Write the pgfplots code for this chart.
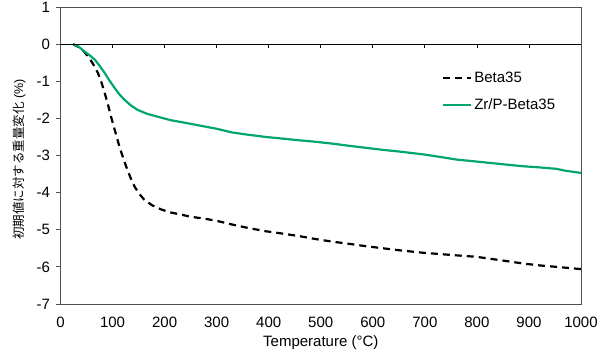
\documentclass[border=0pt]{standalone}
\usepackage{pgfplots}
\pgfplotsset{compat=1.18}
\usepackage{fontspec}
\setmainfont{Liberation Sans}
\newfontfamily\jp{Noto Sans CJK JP}
\definecolor{zrgreen}{RGB}{0,166,106}
\definecolor{frame}{RGB}{80,80,80}
\begin{document}
\begin{tikzpicture}
\useasboundingbox (0,0) rectangle (598pt,351pt);
\begin{axis}[
  at={(60.5pt,47pt)}, anchor=south west,
  scale only axis, width=520.5pt, height=297pt,
  xmin=0, xmax=1000, ymin=-7, ymax=1,
  xtick={0,100,...,1000}, ytick={-7,-6,...,1},
  enlargelimits=false,
  axis line style={frame, line width=0.8pt},
  xtick style={draw=none},
  ytick pos=left, ytick align=outside,
  ytick style={frame, line width=0.8pt},
  major tick length=4pt,
  tick label style={font=\fontsize{15}{17}\selectfont},
  /pgf/number format/assume math mode=true,
  /pgf/number format/1000 sep={},
  xticklabel style={yshift=-9pt},
  yticklabel style={xshift=-3pt},
  xlabel={Temperature (°C)},
  xlabel style={font=\fontsize{15}{17}\selectfont, at={(axis description cs:0.5,0)}, anchor=north, yshift=-28pt},
  ylabel={{\jp 初期値に対する重量変化} (\%)},
  ylabel style={font=\fontsize{12.5}{14}\selectfont, at={(axis description cs:-0.06,0.487)}, anchor=south},
  legend style={draw=none, fill=none, at={(axis description cs:0.727,0.795)}, anchor=north west,
    font=\fontsize{15}{17}\selectfont, row sep=11pt},
  legend cell align=left,
  legend image code/.code={\draw[#1] (0pt,0pt) -- (28pt,0pt);},
]
\addplot[black, line width=2.2pt, dash pattern=on 7pt off 5pt] coordinates {
(24,0)(35,-0.08)(45,-0.2)(53,-0.33)(62,-0.52)(72,-0.78)(78,-1.0)(85,-1.32)(91,-1.62)(97,-1.95)(105,-2.35)(113,-2.75)(120,-3.05)(126,-3.29)(134,-3.58)(142,-3.83)(151,-4.03)(161,-4.19)(176,-4.34)(193,-4.45)(210,-4.53)(231,-4.59)(250,-4.65)(276,-4.70)(300,-4.76)(330,-4.86)(360,-4.95)(394,-5.04)(425,-5.1)(458,-5.17)(490,-5.25)(522,-5.32)(555,-5.38)(585,-5.44)(620,-5.5)(649,-5.55)(697,-5.62)(761,-5.69)(800,-5.73)(825,-5.78)(860,-5.85)(889,-5.91)(920,-5.96)(953,-6.0)(1000,-6.06)
};
\addlegendentry{Beta35}
\addplot[zrgreen, line width=2.2pt] coordinates {
(24,0)(35,-0.07)(46,-0.2)(56,-0.3)(66,-0.42)(75,-0.58)(85,-0.78)(95,-1.0)(104,-1.18)(113,-1.35)(123,-1.5)(135,-1.65)(148,-1.77)(165,-1.87)(180,-1.93)(212,-2.05)(240,-2.12)(266,-2.19)(300,-2.28)(330,-2.38)(360,-2.44)(394,-2.50)(430,-2.55)(458,-2.59)(490,-2.63)(522,-2.68)(555,-2.74)(585,-2.79)(620,-2.85)(649,-2.89)(697,-2.97)(730,-3.04)(761,-3.11)(790,-3.15)(825,-3.2)(860,-3.25)(889,-3.29)(920,-3.32)(953,-3.36)(970,-3.41)(1000,-3.47)
};
\addlegendentry{Zr/P-Beta35}
\end{axis}
\begin{axis}[
  at={(60.5pt,47pt)}, anchor=south west,
  scale only axis, width=520.5pt, height=297pt,
  xmin=0, xmax=1000, ymin=-7, ymax=1,
  enlargelimits=false,
  axis x line=middle, axis y line=none,
  axis line style={-, black, line width=0.8pt},
  xtick={100,200,...,900}, xticklabels={},
  xtick align=outside, major tick length=4pt,
  xtick style={black, line width=0.8pt},
]
\end{axis}
\end{tikzpicture}
\end{document}
